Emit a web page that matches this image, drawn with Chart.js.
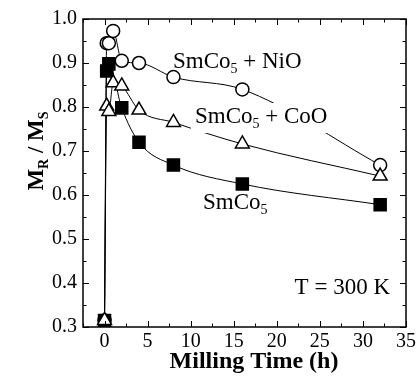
<!DOCTYPE html>
<html>
<head>
<meta charset="utf-8">
<script src="https://cdn.jsdelivr.net/npm/chart.js@4"></script>
<style>
  html,body{margin:0;padding:0;background:#fff;}
  #wrap{width:419px;height:377px;}
</style>
</head>
<body>
<div id="wrap"><canvas id="myChart" width="419" height="377"></canvas></div>
<script>
// data
const niTime=[0,0.25,0.5,1,2,4,8,16,32];
const niVal=[0.315,0.945,0.945,0.973,0.905,0.9,0.868,0.84,0.668];
const coTime=[0,0.25,0.5,1,2,4,8,16,32];
const coVal=[0.315,0.802,0.79,0.855,0.848,0.793,0.765,0.716,0.643];
const smTime=[0,0.25,0.5,2,4,8,16,32];
const smVal=[0.315,0.882,0.898,0.798,0.72,0.668,0.625,0.578];

const xTicks=[0,5,10,15,20,25,30,35];
const yTicks=[0.3,0.4,0.5,0.6,0.7,0.8,0.9,1.0];

const serif='"Liberation Serif", "DejaVu Serif", serif';

function pts(t,v){
  return t.map((x,i)=>({x:x,y:v[i]}));
}

// text with subscript pieces: [text, isSub]
function drawRich(ctx,parts,x,y,size,bold,align,noDraw){
  const main=(bold?'bold ':'')+size+'px '+serif;
  const sub=(bold?'bold ':'')+Math.round(size*0.62)+'px '+serif;
  let w=0;
  parts.forEach(p=>{ctx.font=p[1]?sub:main;w+=ctx.measureText(p[0]).width;});
  if(noDraw) return w;
  let cx=x;
  if(align=='center') cx=x-w/2;
  if(align=='right') cx=x-w;
  ctx.textBaseline='middle';
  ctx.textAlign='left';
  parts.forEach(p=>{
    ctx.font=p[1]?sub:main;
    ctx.fillText(p[0],cx,p[1]?y+size*0.32:y);
    cx+=ctx.measureText(p[0]).width;
  });
  return w;
}

const frame={
  id:'frame',
  afterDatasetsDraw(chart){
    const ctx=chart.ctx, a=chart.chartArea;
    const xs=chart.scales.x, ys=chart.scales.y;
    ctx.save();
    ctx.strokeStyle='#000';
    ctx.lineWidth=1.5;
    ctx.strokeRect(a.left,a.top,a.right-a.left,a.bottom-a.top);
    ctx.lineWidth=1;
    ctx.beginPath();
    // inward ticks, major + minor
    for(let v=-2.5;v<=35;v+=2.5){
      const px=Math.round(xs.getPixelForValue(v))+0.5;
      const len=(v%5==0)?6:3.5;
      ctx.moveTo(px,a.bottom);ctx.lineTo(px,a.bottom-len);
      ctx.moveTo(px,a.top);ctx.lineTo(px,a.top+len);
    }
    for(let k=0;k<=14;k++){
      const v=0.3+k*0.05;
      const py=Math.round(ys.getPixelForValue(v))+0.5;
      const len=(k%2==0)?6:3.5;
      ctx.moveTo(a.left,py);ctx.lineTo(a.left+len,py);
      ctx.moveTo(a.right,py);ctx.lineTo(a.right-len,py);
    }
    ctx.stroke();

    ctx.fillStyle='#000';
    // curve labels
    drawRich(ctx,[['SmCo',0],['5',1],[' + NiO',0]],173,62,23,false,'left');
    const coParts=[['SmCo',0],['5',1],[' + CoO',0]];
    const w=drawRich(ctx,coParts,0,0,23,false,'left',true);
    ctx.fillStyle='#fff';
    ctx.fillRect(191,103,w+8,30);
    ctx.fillStyle='#000';
    drawRich(ctx,coParts,195,117,23,false,'left');
    drawRich(ctx,[['SmCo',0],['5',1]],203,203,23,false,'left');
    ctx.font='23px '+serif;
    ctx.textAlign='right';ctx.textBaseline='middle';
    ctx.fillText('T = 300 K',390,288);

    // axis titles
    ctx.textAlign='center';
    ctx.font='bold 24px '+serif;
    ctx.fillText('Milling Time (h)',254,362);
    ctx.translate(37,151);
    ctx.rotate(-Math.PI/2);
    drawRich(ctx,[['M',0],['R',1],[' / M',0],['S',1]],0,0,23,true,'center');
    ctx.restore();
  }
};

const line={borderColor:'#000',borderWidth:1,cubicInterpolationMode:'monotone',pointBorderColor:'#000',pointBorderWidth:1.5};

var ctx=document.getElementById('myChart').getContext('2d');
var chart=new Chart(ctx,{
  type:'scatter',
  data:{
    datasets:[
      Object.assign({label:'SmCo5 + CoO',data:pts(coTime,coVal),showLine:true,pointStyle:'triangle',pointRadius:8,pointBackgroundColor:'#fff'},line),
      Object.assign({label:'SmCo5',data:pts(smTime,smVal),showLine:true,pointStyle:'rect',pointRadius:8.5,pointBackgroundColor:'#000'},line),
      Object.assign({label:'SmCo5 + NiO',data:pts(niTime,niVal),showLine:true,pointStyle:'circle',pointRadius:6.5,pointBackgroundColor:'#fff'},line)
    ]
  },
  options:{
    responsive:false,
    animation:false,
    layout:{padding:{left:0,top:19,right:9,bottom:0}},
    plugins:{legend:{display:false},tooltip:{enabled:false}},
    scales:{
      x:{
        type:'linear',min:-2.5,max:35,
        afterBuildTicks(s){s.ticks=xTicks.map(v=>({value:v}));},
        afterFit(s){s.height=50;},
        grid:{display:false,drawTicks:false},
        border:{display:false},
        ticks:{color:'#000',font:{family:serif,size:20},padding:3,maxRotation:0,autoSkip:false}
      },
      y:{
        type:'linear',min:0.3,max:1.0,
        afterBuildTicks(s){s.ticks=yTicks.map(v=>({value:v}));},
        afterFit(s){s.width=83;},
        grid:{display:false,drawTicks:false},
        border:{display:false},
        ticks:{color:'#000',font:{family:serif,size:20},padding:6,autoSkip:false,callback:v=>v.toFixed(1)}
      }
    }
  },
  plugins:[frame]
});
</script>
</body>
</html>
